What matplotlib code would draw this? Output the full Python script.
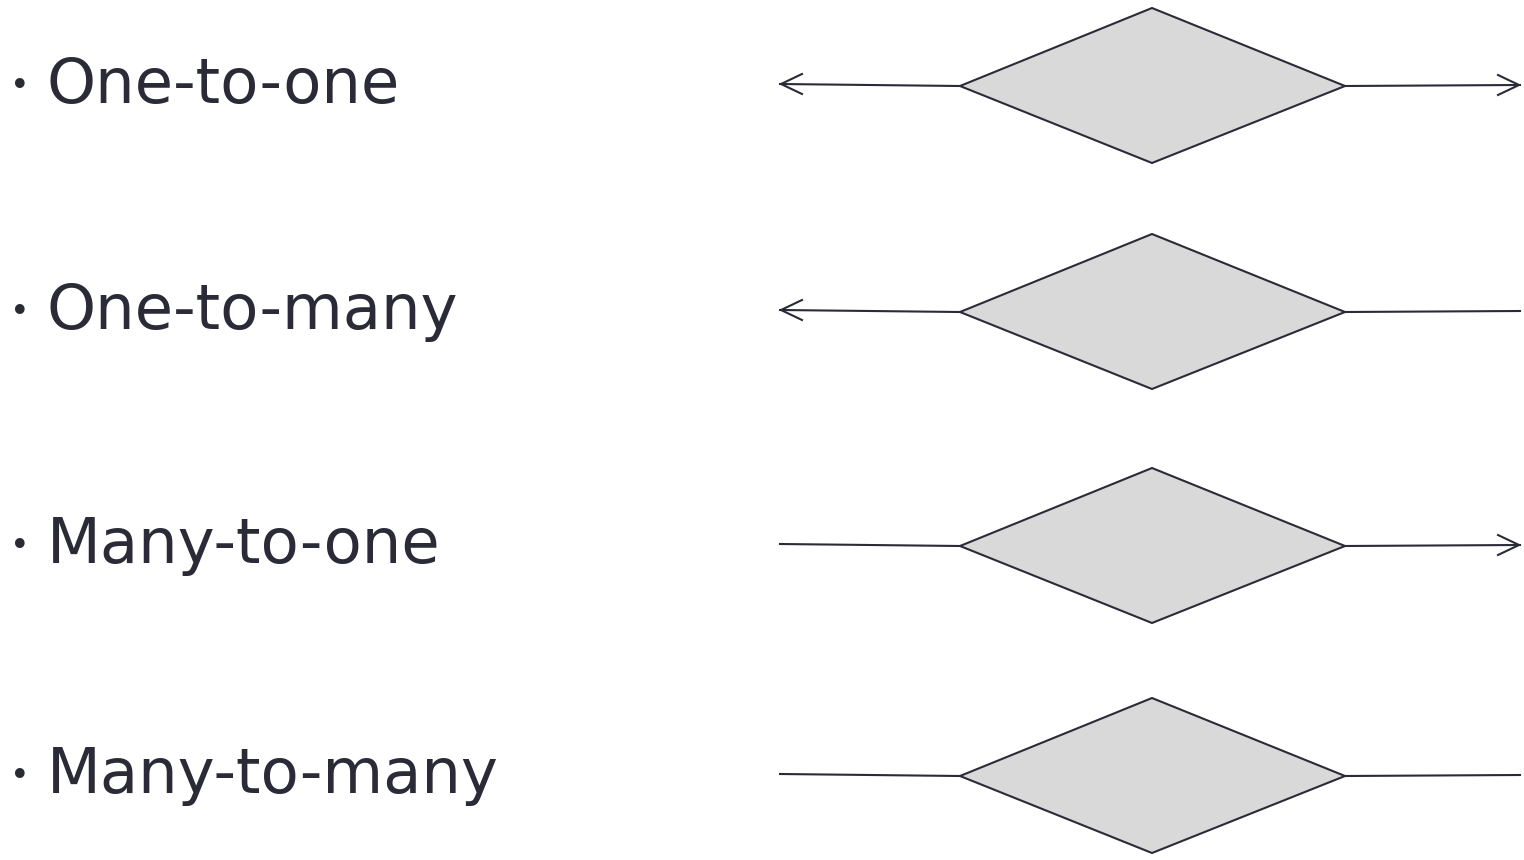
import matplotlib.pyplot as plt
from matplotlib.patches import Polygon

labels = ['One-to-one', 'One-to-many', 'Many-to-one', 'Many-to-many']
row_y = [85, 311, 545, 775]
left_arrow = [True, True, False, False]
right_arrow = [True, False, True, False]

ink = '#2b2b38'
fig = plt.figure(figsize=(15.24, 8.6), dpi=100)
ax = fig.add_axes([0, 0, 1, 1])
ax.set_xlim(0, 1524)
ax.set_ylim(860, 0)
ax.axis('off')

for lab, y, la, ra in zip(labels, row_y, left_arrow, right_arrow):
    ax.text(10, y + 1, '•', fontsize=24, color=ink, va='center', ha='left')
    ax.text(47, y + 1, lab, fontsize=45, color=ink, va='center', ha='left',
            family='DejaVu Sans')
    ax.add_patch(Polygon([[960, y + 1], [1152, y - 77], [1345, y + 1], [1152, y + 78]],
                         closed=True, facecolor='#d9d9d9', edgecolor=ink, lw=1.5))
    ax.plot([780, 960], [y - 1, y + 1], color=ink, lw=1.5)
    ax.plot([1345, 1520], [y + 1, y], color=ink, lw=1.5)
    if la:
        ax.plot([802, 781, 802], [y - 11, y - 1, y + 9], color=ink, lw=1.5)
    if ra:
        ax.plot([1498, 1519, 1498], [y - 10, y, y + 10], color=ink, lw=1.5)

fig.savefig('out.png', dpi=100)
